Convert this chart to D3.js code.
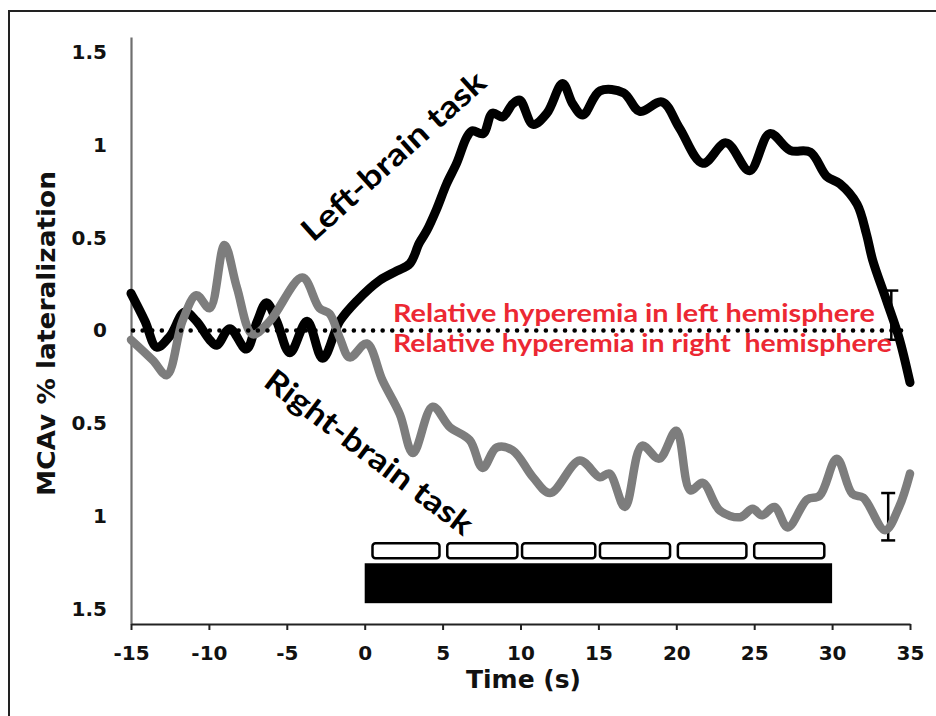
<!DOCTYPE html>
<html>
<head>
<meta charset="utf-8">
<script src="https://cdn.jsdelivr.net/npm/d3@7"></script>
<style>
  body { margin: 0; background: #fff; }
  .tick text { font-family: "DejaVu Sans", sans-serif; font-weight: bold; fill: #111; }
</style>
</head>
<body>
<div id="chart"></div>
<script>
// left-brain task (black)
const leftTime = [-15, -14.1, -13.35, -12.5, -11.55, -10.8, -9.95, -9.5, -8.66, -7.6, -6.9, -6.3, -5.65, -4.8, -3.7, -2.7, -1.6, -0.5,
  0.96, 2.05, 2.9, 3.5, 4.0, 4.6, 5.26, 5.9, 6.55, 6.9, 7.6, 8.2, 8.86, 9.5, 9.95, 10.8, 11.7, 12.7, 13.35, 14.0, 15.1, 16.6,
  17.65, 19.1, 20.2, 21.7, 23.2, 24.7, 26.0, 27.3, 28.6, 29.65, 30.5, 31.6, 32.2, 32.6, 33.5, 34.3, 35];
const leftValue = [0.20, 0.05, -0.09, -0.03, 0.10, 0.05, -0.05, -0.08, 0.01, -0.10, 0.05, 0.15, 0.05, -0.12, 0.05, -0.15, 0.05, 0.16,
  0.27, 0.32, 0.36, 0.47, 0.54, 0.65, 0.79, 0.90, 1.04, 1.075, 1.06, 1.17, 1.15, 1.22, 1.24, 1.11, 1.17, 1.33, 1.22, 1.16, 1.29, 1.28,
  1.18, 1.23, 1.09, 0.90, 1.01, 0.86, 1.06, 0.97, 0.96, 0.83, 0.79, 0.68, 0.52, 0.38, 0.16, -0.04, -0.28];

// right-brain task (grey)
const rightTime = [-15, -13.6, -12.7, -11.7, -10.8, -9.95, -9.0, -8.2, -7.2, -6.1, -4.0, -2.9, -2.25, -1.6, -0.96, 0.13, 1.15, 2.25,
  3.1, 4.36, 5.46, 6.74, 7.57, 8.47, 9.5, 10.8, 11.9, 13.8, 15.1, 15.7, 16.7, 17.8, 18.9, 20.0, 20.9, 21.7, 22.8, 24.1, 24.9,
  25.5, 26.3, 27.15, 28.4, 29.2, 30.3, 31.3, 32.0, 33.4, 34.3, 35];
const rightValue = [-0.05, -0.16, -0.24, 0.05, 0.19, 0.12, 0.46, 0.23, -0.02, 0.05, 0.285, 0.12, 0.09, -0.04, -0.145, -0.07, -0.27, -0.45,
  -0.66, -0.41, -0.52, -0.59, -0.74, -0.63, -0.645, -0.79, -0.875, -0.70, -0.79, -0.77, -0.95, -0.62, -0.69, -0.54, -0.86, -0.82, -0.97, -1.005, -0.96,
  -0.995, -0.95, -1.06, -0.91, -0.89, -0.69, -0.88, -0.90, -1.075, -0.95, -0.77];

// error bars at end of trace
const errTime = [33.8, 33.6];
const errLow = [-0.05, -1.13];
const errHigh = [0.215, -0.875];

// task timing: 6 stimulus boxes and the task period
const boxStart = [0.5, 5.3, 10.1, 15.1, 20.1, 25.0];
const boxEnd = [4.8, 9.8, 14.8, 19.6, 24.5, 29.5];
const taskPeriod = [0, 30];

const xTicks = [-15, -10, -5, 0, 5, 10, 15, 20, 25, 30, 35];
const yTicks = [-1.5, -1, -0.5, 0, 0.5, 1, 1.5];

(function () {
  const W = 936, H = 716;

  const svg = d3.select("#chart")
    .append("svg")
    .attr("width", W)
    .attr("height", H)
    .style("display", "block");

  svg.append("rect").attr("width", W).attr("height", H).attr("fill", "#fff");

  // frame around figure (cropped at right and bottom)
  svg.append("rect")
    .attr("x", 9).attr("y", 11)
    .attr("width", W + 20).attr("height", H + 20)
    .attr("fill", "none")
    .attr("stroke", "#222")
    .attr("stroke-width", 2);

  const x = d3.scaleLinear().domain([-15, 35]).range([131, 910]);
  const y = d3.scaleLinear().domain([-1.58, 1.58]).range([624, 37]);

  // y axis, labels show magnitude only
  const yAxis = svg.append("g")
    .attr("transform", `translate(${x(-15)},0)`)
    .call(d3.axisLeft(y).tickValues(yTicks).tickSize(0).tickPadding(24)
      .tickFormat(d => String(Math.abs(d))));
  yAxis.select(".domain").attr("stroke", "#6f6f6f").attr("stroke-width", 2.2);
  yAxis.selectAll(".tick text").style("font-size", "20px");

  // x axis
  const xAxis = svg.append("g")
    .attr("transform", `translate(0,${y(-1.58)})`)
    .call(d3.axisBottom(x).tickValues(xTicks).tickSize(6).tickPadding(16).tickSizeOuter(0)
      .tickFormat(d => String(d)));
  xAxis.select(".domain").attr("stroke", "#222").attr("stroke-width", 2.2);
  xAxis.selectAll(".tick line").attr("stroke", "#222").attr("stroke-width", 2);
  xAxis.selectAll(".tick text").style("font-size", "20px");

  // axis titles
  svg.append("text")
    .attr("x", (x(-15) + x(35)) / 2 + 3)
    .attr("y", 688)
    .attr("text-anchor", "middle")
    .style("font-family", "DejaVu Sans, sans-serif")
    .style("font-weight", "bold")
    .style("font-size", "25px")
    .attr("fill", "#111")
    .text("Time (s)");

  svg.append("text")
    .attr("transform", `translate(55,${y(0) + 3}) rotate(-90)`)
    .attr("text-anchor", "middle")
    .style("font-family", "DejaVu Sans, sans-serif")
    .style("font-weight", "bold")
    .style("font-size", "25px")
    .attr("textLength", 325)
    .attr("lengthAdjust", "spacingAndGlyphs")
    .attr("fill", "#111")
    .text("MCAv % lateralization");

  // task boxes and bar
  svg.append("g").selectAll("rect")
    .data(boxStart.map((s, i) => ({ s, e: boxEnd[i] })))
    .join("rect")
    .attr("x", d => x(d.s))
    .attr("width", d => x(d.e) - x(d.s))
    .attr("y", y(-1.145))
    .attr("height", y(-1.226) - y(-1.145))
    .attr("rx", 3)
    .attr("fill", "#fff")
    .attr("stroke", "#000")
    .attr("stroke-width", 2.5);

  svg.append("rect")
    .attr("x", x(taskPeriod[0]))
    .attr("width", x(taskPeriod[1]) - x(taskPeriod[0]))
    .attr("y", y(-1.253))
    .attr("height", y(-1.468) - y(-1.253))
    .attr("fill", "#000");

  const line = d3.line()
    .x(d => x(d[0]))
    .y(d => y(d[1]))
    .curve(d3.curveCatmullRom.alpha(0.5));

  // error bars
  const err = errTime.map((t, i) => ({ t, lo: errLow[i], hi: errHigh[i] }));
  const eb = svg.append("g").attr("stroke", "#000").attr("stroke-width", 2.5);
  eb.selectAll("line.stem").data(err).join("line").attr("class", "stem")
    .attr("x1", d => x(d.t)).attr("x2", d => x(d.t))
    .attr("y1", d => y(d.hi)).attr("y2", d => y(d.lo));
  eb.selectAll("line.capHi").data(err).join("line").attr("class", "capHi")
    .attr("x1", d => x(d.t) - 7).attr("x2", d => x(d.t) + 7)
    .attr("y1", d => y(d.hi)).attr("y2", d => y(d.hi));
  eb.selectAll("line.capLo").data(err).join("line").attr("class", "capLo")
    .attr("x1", d => x(d.t) - 7).attr("x2", d => x(d.t) + 7)
    .attr("y1", d => y(d.lo)).attr("y2", d => y(d.lo));

  svg.append("path")
    .datum(leftTime.map((t, i) => [t, leftValue[i]]))
    .attr("d", line)
    .attr("fill", "none")
    .attr("stroke", "#000")
    .attr("stroke-width", 9)
    .attr("stroke-linejoin", "round")
    .attr("stroke-linecap", "round");

  svg.append("path")
    .datum(rightTime.map((t, i) => [t, rightValue[i]]))
    .attr("d", line)
    .attr("fill", "none")
    .attr("stroke", "#7d7d7d")
    .attr("stroke-width", 8.5)
    .attr("stroke-linejoin", "round")
    .attr("stroke-linecap", "round");

  // zero reference (dotted)
  svg.append("line")
    .attr("x1", x(-15) + 2).attr("x2", x(34.5))
    .attr("y1", y(0)).attr("y2", y(0))
    .attr("stroke", "#000")
    .attr("stroke-width", 4.5)
    .attr("stroke-linecap", "round")
    .attr("stroke-dasharray", "0.1 9.5");

  // red annotations
  const red = "#ec2833";
  svg.append("text")
    .attr("x", 393).attr("y", 322)
    .attr("textLength", 482).attr("lengthAdjust", "spacingAndGlyphs")
    .style("font-family", "Lato, sans-serif").style("font-weight", "bold").style("font-size", "24px")
    .attr("fill", red)
    .text("Relative hyperemia in left hemisphere");
  svg.append("text")
    .attr("x", 393).attr("y", 352)
    .attr("textLength", 499).attr("lengthAdjust", "spacingAndGlyphs")
    .style("font-family", "Lato, sans-serif").style("font-weight", "bold").style("font-size", "24px")
    .attr("fill", red)
    .style("white-space", "pre")
    .text("Relative hyperemia in right  hemisphere");

  // series labels
  svg.append("text")
    .attr("transform", "translate(313,243) rotate(-42)")
    .attr("textLength", 236).attr("lengthAdjust", "spacingAndGlyphs")
    .style("font-family", "Lato, sans-serif").style("font-weight", "bold").style("font-size", "31px")
    .attr("fill", "#000")
    .text("Left-brain task");

  svg.append("text")
    .attr("transform", "translate(262,385) rotate(37)")
    .attr("textLength", 252).attr("lengthAdjust", "spacingAndGlyphs")
    .style("font-family", "Lato, sans-serif").style("font-weight", "bold").style("font-size", "31px")
    .attr("fill", "#000")
    .text("Right-brain task");
})();
</script>
</body>
</html>
